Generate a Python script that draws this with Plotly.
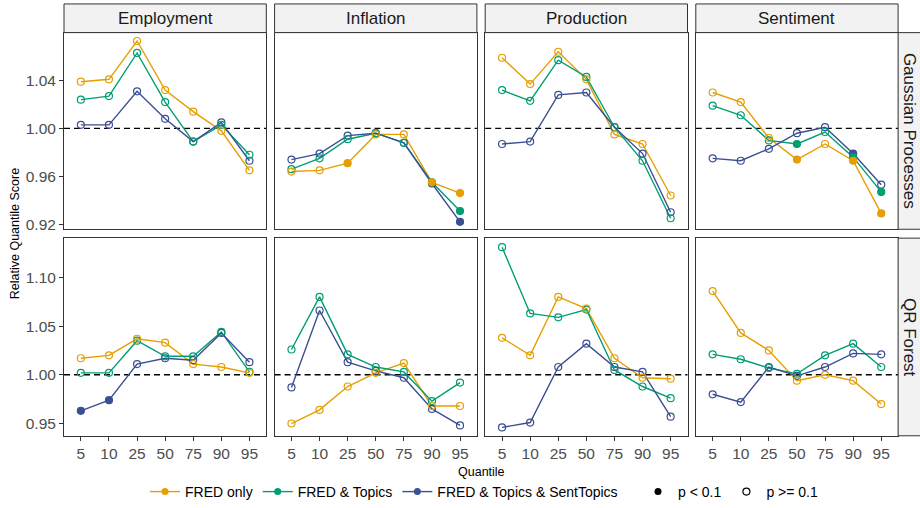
import plotly.graph_objects as go

# Categories
quantiles = ["5", "10", "25", "50", "75", "90", "95"]
variables = ["Employment", "Inflation", "Production", "Sentiment"]
models = ["Gaussian Processes", "QR Forest"]
feature_sets = ["FRED only", "FRED & Topics", "FRED & Topics & SentTopics"]
colores = ["#E69F00", "#009E73", "#3B4F93"]

# Gaussian Processes - relative quantile score
gp_employment_fred = [1.039, 1.041, 1.073, 1.032, 1.014, 0.998, 0.965]
gp_employment_topics = [1.024, 1.027, 1.063, 1.022, 0.989, 1.003, 0.978]
gp_employment_sent = [1.003, 1.003, 1.031, 1.008, 0.989, 1.005, 0.973]

gp_inflation_fred = [0.964, 0.965, 0.971, 0.995, 0.995, 0.955, 0.946]
gp_inflation_topics = [0.966, 0.975, 0.991, 0.996, 0.988, 0.955, 0.931]
gp_inflation_sent = [0.974, 0.979, 0.994, 0.996, 0.988, 0.954, 0.922]

gp_production_fred = [1.059, 1.037, 1.064, 1.041, 0.995, 0.987, 0.944]
gp_production_topics = [1.032, 1.023, 1.057, 1.043, 1.001, 0.973, 0.925]
gp_production_sent = [0.987, 0.989, 1.028, 1.030, 1.001, 0.979, 0.930]

gp_sentiment_fred = [1.030, 1.022, 0.992, 0.974, 0.987, 0.973, 0.929]
gp_sentiment_topics = [1.019, 1.011, 0.990, 0.987, 0.997, 0.976, 0.947]
gp_sentiment_sent = [0.975, 0.973, 0.983, 0.996, 1.001, 0.979, 0.953]

# QR Forest - relative quantile score
qrf_employment_fred = [1.017, 1.020, 1.037, 1.033, 1.011, 1.008, 1.002]
qrf_employment_topics = [1.002, 1.002, 1.035, 1.019, 1.019, 1.044, 1.003]
qrf_employment_sent = [0.963, 0.974, 1.011, 1.017, 1.015, 1.043, 1.013]

qrf_inflation_fred = [0.950, 0.964, 0.988, 1.002, 1.012, 0.968, 0.968]
qrf_inflation_topics = [1.026, 1.080, 1.021, 1.008, 1.003, 0.973, 0.992]
qrf_inflation_sent = [0.987, 1.066, 1.013, 1.004, 0.997, 0.965, 0.948]

qrf_production_fred = [1.038, 1.020, 1.080, 1.068, 1.017, 0.997, 0.996]
qrf_production_topics = [1.131, 1.063, 1.059, 1.067, 1.005, 0.988, 0.976]
qrf_production_sent = [0.946, 0.951, 1.008, 1.032, 1.008, 1.003, 0.957]

qrf_sentiment_fred = [1.086, 1.043, 1.025, 0.994, 1.000, 0.994, 0.970]
qrf_sentiment_topics = [1.021, 1.016, 1.007, 1.001, 1.020, 1.032, 1.008]
qrf_sentiment_sent = [0.980, 0.972, 1.008, 0.999, 1.008, 1.022, 1.021]

# Puntos con p < 0.1 (modelo, variable, conjunto, cuantil)
significativos = [
    ("Gaussian Processes", "Inflation", "FRED only", "25"),
    ("Gaussian Processes", "Inflation", "FRED only", "90"),
    ("Gaussian Processes", "Inflation", "FRED only", "95"),
    ("Gaussian Processes", "Inflation", "FRED & Topics", "90"),
    ("Gaussian Processes", "Inflation", "FRED & Topics", "95"),
    ("Gaussian Processes", "Inflation", "FRED & Topics & SentTopics", "90"),
    ("Gaussian Processes", "Inflation", "FRED & Topics & SentTopics", "95"),
    ("Gaussian Processes", "Sentiment", "FRED only", "50"),
    ("Gaussian Processes", "Sentiment", "FRED only", "90"),
    ("Gaussian Processes", "Sentiment", "FRED only", "95"),
    ("Gaussian Processes", "Sentiment", "FRED & Topics", "50"),
    ("Gaussian Processes", "Sentiment", "FRED & Topics", "90"),
    ("Gaussian Processes", "Sentiment", "FRED & Topics", "95"),
    ("Gaussian Processes", "Sentiment", "FRED & Topics & SentTopics", "90"),
    ("QR Forest", "Employment", "FRED & Topics & SentTopics", "5"),
    ("QR Forest", "Employment", "FRED & Topics & SentTopics", "10"),
]

datos = {
    ("Gaussian Processes", "Employment"): [gp_employment_fred, gp_employment_topics, gp_employment_sent],
    ("Gaussian Processes", "Inflation"): [gp_inflation_fred, gp_inflation_topics, gp_inflation_sent],
    ("Gaussian Processes", "Production"): [gp_production_fred, gp_production_topics, gp_production_sent],
    ("Gaussian Processes", "Sentiment"): [gp_sentiment_fred, gp_sentiment_topics, gp_sentiment_sent],
    ("QR Forest", "Employment"): [qrf_employment_fred, qrf_employment_topics, qrf_employment_sent],
    ("QR Forest", "Inflation"): [qrf_inflation_fred, qrf_inflation_topics, qrf_inflation_sent],
    ("QR Forest", "Production"): [qrf_production_fred, qrf_production_topics, qrf_production_sent],
    ("QR Forest", "Sentiment"): [qrf_sentiment_fred, qrf_sentiment_topics, qrf_sentiment_sent],
}

W, H = 920, 508
FONT = "Liberation Sans, Arial, sans-serif"
col_x0 = [64, 274.6, 485.2, 695.8]
panel_w = 202.3
row_y = [(33, 232), (241, 441)]
y_rangos = [[0.9158, 1.080], [0.9374, 1.1403]]
y_ticks = [[0.92, 0.96, 1.00, 1.04], [0.95, 1.00, 1.05, 1.10]]

fig = go.Figure()
layout = {}
shapes = []
annotations = []

for r, modelo in enumerate(models):
    for c, variable in enumerate(variables):
        n = r * 4 + c + 1
        xa = "x" if n == 1 else f"x{n}"
        ya = "y" if n == 1 else f"y{n}"
        series = datos[(modelo, variable)]
        # lineas primero, luego puntos
        for k in range(3):
            fig.add_trace(go.Scatter(x=quantiles, y=series[k], mode="lines",
                                     line=dict(color=colores[k], width=1.4),
                                     xaxis=xa, yaxis=ya, showlegend=False, hoverinfo="skip"))
        for k in [2, 1, 0]:
            simbolos = ["circle" if (modelo, variable, feature_sets[k], q) in significativos
                        else "circle-open" for q in quantiles]
            fig.add_trace(go.Scatter(x=quantiles, y=series[k], mode="markers",
                                     marker=dict(symbol=simbolos, size=7, color=colores[k],
                                                 line=dict(color=colores[k], width=1.2)),
                                     xaxis=xa, yaxis=ya, showlegend=False,
                                     name=feature_sets[k]))

        x0 = col_x0[c] / W
        x1 = (col_x0[c] + panel_w) / W
        y0 = 1 - row_y[r][1] / H
        y1 = 1 - row_y[r][0] / H
        layout[f"xaxis{'' if n == 1 else n}"] = dict(
            domain=[x0, x1], anchor=ya, type="category", categoryorder="array",
            categoryarray=quantiles, range=[-0.6, 6.6], showgrid=False, zeroline=False,
            showline=True, mirror=True, linecolor="#333333", linewidth=1,
            ticks="outside" if r == 1 else "", ticklen=4, tickcolor="#333333",
            showticklabels=(r == 1), tickfont=dict(size=15.5, color="#4D4D4D", family=FONT))
        layout[f"yaxis{'' if n == 1 else n}"] = dict(
            domain=[y0, y1], anchor=xa, range=y_rangos[r], showgrid=False, zeroline=False,
            showline=True, mirror=True, linecolor="#333333", linewidth=1,
            tickvals=y_ticks[r], tickformat=".2f",
            ticks="outside" if c == 0 else "", ticklen=4, tickcolor="#333333",
            showticklabels=(c == 0), tickfont=dict(size=15.5, color="#4D4D4D", family=FONT))
        # linea de referencia en 1
        shapes.append(dict(type="line", xref=f"{xa} domain", yref=ya, x0=0, x1=1, y0=1, y1=1,
                           line=dict(color="black", width=1.4, dash="6px,4px"), layer="below"))

# Tiras superiores (variables)
for c, variable in enumerate(variables):
    x0 = col_x0[c] / W
    x1 = (col_x0[c] + panel_w) / W
    shapes.append(dict(type="rect", xref="paper", yref="paper", x0=x0, x1=x1,
                       y0=1 - 33 / H, y1=1 - 4 / H, fillcolor="#F2F2F2",
                       line=dict(color="#333333", width=1)))
    annotations.append(dict(text=variable, xref="paper", yref="paper", x=(x0 + x1) / 2,
                            y=1 - 18.5 / H, xanchor="center", yanchor="middle", showarrow=False,
                            font=dict(size=17, color="#1A1A1A", family=FONT)))

# Tiras laterales (modelos)
sx0 = (col_x0[3] + panel_w) / W
for r, modelo in enumerate(models):
    y0 = 1 - row_y[r][1] / H
    y1 = 1 - row_y[r][0] / H
    shapes.append(dict(type="rect", xref="paper", yref="paper", x0=sx0, x1=1.02,
                       y0=y0, y1=y1, fillcolor="#F2F2F2",
                       line=dict(color="#333333", width=1)))
    annotations.append(dict(text=modelo, xref="paper", yref="paper", x=(sx0 + 1) / 2,
                            y=(y0 + y1) / 2, xanchor="center", yanchor="middle",
                            showarrow=False, textangle=90,
                            font=dict(size=17, color="#1A1A1A", family=FONT)))

# Titulos de ejes
annotations.append(dict(text="Quantile", xref="paper", yref="paper",
                        x=(col_x0[0] + col_x0[3] + panel_w) / 2 / W, y=1 - 478 / H,
                        xanchor="center", yanchor="middle",
                        showarrow=False, font=dict(size=12.5, color="black", family=FONT)))
annotations.append(dict(text="Relative Quantile Score", xref="paper", yref="paper",
                        x=15 / W, y=1 - 237 / H, xanchor="center", yanchor="middle",
                        showarrow=False, textangle=-90,
                        font=dict(size=12.5, color="black", family=FONT)))

# Leyendas
for k in range(3):
    fig.add_trace(go.Scatter(x=[None], y=[None], mode="lines+markers", name=feature_sets[k],
                             line=dict(color=colores[k], width=1.4),
                             marker=dict(symbol="circle", size=7, color=colores[k]),
                             legend="legend"))
fig.add_trace(go.Scatter(x=[None], y=[None], mode="markers", name="p < 0.1",
                         marker=dict(symbol="circle", size=7, color="black"), legend="legend2"))
fig.add_trace(go.Scatter(x=[None], y=[None], mode="markers", name="p >= 0.1",
                         marker=dict(symbol="circle-open", size=7, color="black",
                                     line=dict(width=1.2, color="black")), legend="legend2"))

fig.update_layout(
    width=W, height=H, margin=dict(l=0, r=0, t=0, b=0),
    paper_bgcolor="white", plot_bgcolor="white",
    font=dict(family=FONT),
    shapes=shapes, annotations=annotations,
    legend=dict(orientation="h", x=145 / W, xanchor="left", y=1 - 482 / H, yanchor="top",
                font=dict(size=14, color="black", family=FONT), itemwidth=30,
                bgcolor="rgba(0,0,0,0)"),
    legend2=dict(orientation="h", x=638 / W, xanchor="left", y=1 - 482 / H, yanchor="top",
                 font=dict(size=14, color="black", family=FONT), itemwidth=30,
                 bgcolor="rgba(0,0,0,0)"),
    **layout,
)

fig.write_html("out.html", config={"displayModeBar": False},
               post_script="document.body.style.margin='0';")
